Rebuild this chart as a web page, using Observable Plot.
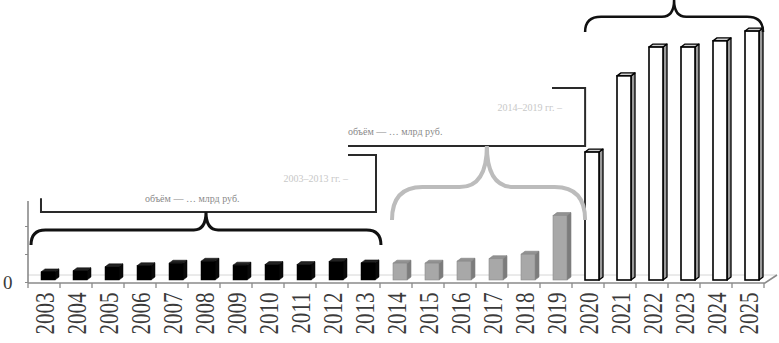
<!DOCTYPE html>
<html>
<head>
<meta charset="utf-8">
<script src="https://cdn.jsdelivr.net/npm/d3@7"></script>
<script src="https://cdn.jsdelivr.net/npm/@observablehq/plot@0.6"></script>
<style>
  html, body { margin: 0; padding: 0; background: #fff; }
</style>
</head>
<body>
<div id="chart"></div>
<script>
// ---- data ----
const years = ["2003","2004","2005","2006","2007","2008","2009","2010","2011","2012","2013",
               "2014","2015","2016","2017","2018","2019",
               "2020","2021","2022","2023","2024","2025"];
const values = [29, 33, 47, 51, 60, 67, 53, 55, 55, 66, 61,
                60, 60, 67, 76, 92, 230,
                457, 729, 832, 832, 854, 889];
const groups = ["black","black","black","black","black","black","black","black","black","black","black",
                "gray","gray","gray","gray","gray","gray",
                "white","white","white","white","white","white"];
const yTicks = [0, 100, 200];
const yTickLabels = ["0", "", ""];
const noteTexts = ["2003–2013 гг. –", "объём — … млрд руб.", "2014–2019 гг. –", "объём — … млрд руб."];

const data = years.map((year, i) => ({year, value: values[i], group: groups[i]}));

// ---- styles ----
const PAD_INNER = 0.5625, PAD_OUTER = 0.28125;
const DX = 4, DEPX = 4, DEPY = 3;
const STY = {
  black: {front: "#000", side: "#0a0a0a", top: "#222", stroke: "#000", sw: 0.5},
  gray:  {front: "#a8a8a8", side: "#7c7c7c", top: "#929292", stroke: "#808080", sw: 0.6},
  white: {front: "#fff", side: "#9a9a9a", top: "#d0d0d0", stroke: "#000", sw: 1.3}
};

function getScales(args) {
  return args.find(a => a && typeof a.x === "function" && typeof a.y === "function");
}
function geom(x) {
  const step = x(years[1]) - x(years[0]);
  let bw = typeof x.bandwidth === "function" ? x.bandwidth() : x.bandwidth;
  if (!(bw > 0)) bw = step * (1 - PAD_INNER);
  const X = t => x(years[0]) + bw / 2 + (t - 0.5) * step;
  return {step, bw, X};
}

function faces(...args) {
  const {x, y} = getScales(args);
  const {bw} = geom(x);
  const g = d3.create("svg:g");
  data.forEach(d => {
    const st = STY[d.group];
    const xa = x(d.year) + DX, xb = xa + bw, yt = y(d.value), yb = y(0);
    g.append("path")
      .attr("d", `M${xb},${yb}L${xb + DEPX},${yb - DEPY}L${xb + DEPX},${yt - DEPY}L${xb},${yt}Z`)
      .attr("fill", st.side).attr("stroke", st.stroke).attr("stroke-width", st.sw).attr("stroke-linejoin", "round");
    g.append("path")
      .attr("d", `M${xa},${yt}L${xa + DEPX},${yt - DEPY}L${xb + DEPX},${yt - DEPY}L${xb},${yt}Z`)
      .attr("fill", st.top).attr("stroke", st.stroke).attr("stroke-width", st.sw).attr("stroke-linejoin", "round");
  });
  return g.node();
}

function decor(...args) {
  const {x, y} = getScales(args);
  const {X} = geom(x);
  const g = d3.create("svg:g");
  const y0 = y(0);
  const L = X(0), R = X(years.length);
  g.append("line").attr("x1", L).attr("x2", R + 13).attr("y1", y0 - 5).attr("y2", y0 - 5)
    .attr("stroke", "#d6d6d6").attr("stroke-width", 1);
  g.append("path").attr("d", `M${L},${y0 + 3}L${R + 1},${y0 + 3}L${R + 13},${y0 - 5}`)
    .attr("fill", "none").attr("stroke", "#8a8a8a").attr("stroke-width", 1.6);
  for (let i = 0; i <= years.length; i++) {
    g.append("line").attr("x1", X(i)).attr("x2", X(i)).attr("y1", y0 + 3).attr("y2", y0 + 8)
      .attr("stroke", "#8a8a8a").attr("stroke-width", 1.3);
  }
  g.append("line").attr("x1", L).attr("x2", L).attr("y1", y0 + 3).attr("y2", y(282))
    .attr("stroke", "#8a8a8a").attr("stroke-width", 1.6);
  return g.node();
}

function annotations(...args) {
  const {x, y} = getScales(args);
  const {step, X} = geom(x);
  const g = d3.create("svg:g");
  function brace(t0, tc, t1, ve, vf, vp, r, rc) {
    const x0 = X(t0), xc = X(tc), x1 = X(t1), ye = y(ve), yf = y(vf), yp = y(vp);
    const rr = r * step, rcc = rc * step;
    return `M${x0},${ye}Q${x0},${yf} ${x0 + rr},${yf}L${xc - rcc},${yf}Q${xc},${yf} ${xc},${yp}` +
           `Q${xc},${yf} ${xc + rcc},${yf}L${x1 - rr},${yf}Q${x1},${yf} ${x1},${ye}`;
  }
  const poly = pts => "M" + pts.map(([t, v]) => `${X(t)},${y(v)}`).join("L");
  g.append("path").attr("d", poly([[10.0, 446], [10.875, 446], [10.875, 243], [0.406, 243], [0.406, 292]]))
    .attr("fill", "none").attr("stroke", "#2a2a2a").attr("stroke-width", 2);
  g.append("path").attr("d", poly([[16.375, 686], [17.41, 686], [17.41, 479], [10.0, 479]]))
    .attr("fill", "none").attr("stroke", "#2a2a2a").attr("stroke-width", 2);
  g.append("path").attr("d", brace(0.094, 5.5625, 11.03, 125, 179, 243, 0.45, 0.38))
    .attr("fill", "none").attr("stroke", "#111").attr("stroke-width", 3);
  g.append("path").attr("d", brace(11.375, 14.34, 17.41, 214, 332, 479, 0.95, 0.85))
    .attr("fill", "none").attr("stroke", "#bcbcbc").attr("stroke-width", 4);
  g.append("path").attr("d", brace(17.41, 20.19, 22.97, 886, 940, 1000, 0.5, 0.38))
    .attr("fill", "none").attr("stroke", "#111").attr("stroke-width", 2.5);
  const notes = [
    {t: 10.0, v: 364, anchor: "end"},
    {t: 3.66, v: 290, anchor: "start"},
    {t: 16.69, v: 616, anchor: "end"},
    {t: 10.0, v: 532, anchor: "start"}
  ];
  notes.forEach((n, i) => {
    g.append("text").attr("x", X(n.t)).attr("y", y(n.v)).attr("text-anchor", n.anchor)
      .attr("font-size", 10).attr("font-family", "'Liberation Serif', serif")
      .attr("fill", i % 2 ? "#8a8a8a" : "#c8c8c8").attr("dy", "0.35em")
      .text(noteTexts[i]);
  });
  return g.node();
}

const chart = Plot.plot({
  width: 779,
  height: 343,
  marginLeft: 28,
  marginRight: 15,
  marginTop: 0,
  marginBottom: 63,
  x: {type: "band", domain: years, paddingInner: PAD_INNER, paddingOuter: PAD_OUTER, align: 0.5},
  y: {domain: [0, 1000]},
  style: {fontFamily: "'Liberation Serif', serif", background: "#fff", overflow: "visible"},
  marks: [
    decor,
    faces,
    Plot.barY(data.filter(d => d.group === "black"), {x: "year", y: "value", dx: DX, fill: STY.black.front, stroke: "#000", strokeWidth: 0.5}),
    Plot.barY(data.filter(d => d.group === "gray"), {x: "year", y: "value", dx: DX, fill: STY.gray.front, stroke: "#8a8a8a", strokeWidth: 0.6}),
    Plot.barY(data.filter(d => d.group === "white"), {x: "year", y: "value", dx: DX, fill: STY.white.front, stroke: "#000", strokeWidth: 1.6}),
    annotations,
    Plot.axisX({tickRotate: -90, tickSize: 0, tickPadding: 12, fontSize: 21, fill: "#3a3a3a", label: null}),
    Plot.axisY({ticks: yTicks, tickFormat: d => yTickLabels[yTicks.indexOf(d)], tickSize: 3, tickPadding: 13,
                fontSize: 19, dy: 2, stroke: "#8a8a8a", fill: "#3a3a3a", label: null})
  ]
});

d3.select(chart).selectAll('g[aria-label="x-axis tick label"] text').each(function() {
  const tr = this.getAttribute("transform") || "";
  this.setAttribute("transform", tr + " scale(1,1.35)");
});

document.getElementById("chart").appendChild(chart);
</script>
</body>
</html>
